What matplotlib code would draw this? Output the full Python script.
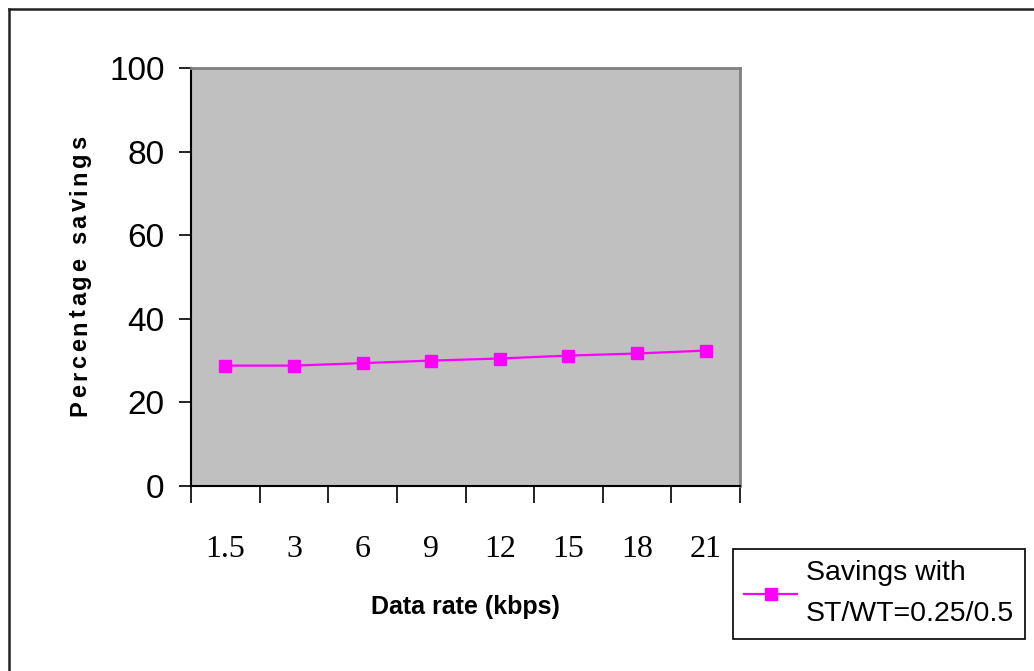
import matplotlib.pyplot as plt
from matplotlib.lines import Line2D
from matplotlib import font_manager
from matplotlib.font_manager import FontProperties
from matplotlib.ft2font import FT2Font

# data rate categories and measured savings
rates = ['1.5', '3', '6', '9', '12', '15', '18', '21']
savings = [28.8, 28.8, 29.4, 30.0, 30.5, 31.2, 31.7, 32.4]
y_ticks = [0, 20, 40, 60, 80, 100]

W, H = 1034, 671
DPI = 100
fig = plt.figure(figsize=(W / DPI, H / DPI), dpi=DPI, facecolor='white')
ax = fig.add_axes([191 / W, 1 - 486 / H, (740 - 191) / W, (486 - 68) / H])
ax.set_facecolor('#C0C0C0')

x = list(range(len(rates)))
ax.plot(x, savings, color='#FF00FF', linewidth=1.6, marker='s', markersize=8.5,
        markeredgecolor='#FF00FF', label='Savings with\nST/WT=0.25/0.5', clip_on=False)

ax.set_xlim(-0.5, len(rates) - 0.5)
ax.set_ylim(0, 100)

# category boundaries get the tick marks, centres get the labels
ax.set_xticks([i - 0.5 for i in range(len(rates) + 1)])
ax.set_xticklabels([])
ax.set_xticks(x, minor=True)
ax.set_xticklabels(rates, minor=True, fontsize=23, family='Liberation Serif')
ax.tick_params(axis='x', which='major', direction='out', length=12, width=1.2, color='black')
ax.tick_params(axis='x', which='minor', length=0, pad=35)

ax.set_yticks(y_ticks)
ax.set_yticklabels([str(v) for v in y_ticks], fontsize=24, family='Liberation Sans')
ax.tick_params(axis='y', direction='out', length=9, width=1.2, color='black', pad=10)

for side in ['left', 'bottom']:
    ax.spines[side].set_color('black')
    ax.spines[side].set_linewidth(1.5)
for side in ['top', 'right']:
    ax.spines[side].set_color('#808080')
    ax.spines[side].set_linewidth(2)

fig.text(465 / W, 1 - 607 / H, 'Data rate (kbps)', fontsize=18, fontweight='bold',
         family='Liberation Sans', ha='center', va='center')


def spaced_vertical_text(s, x_px, y0_px, y1_px, size, **kw):
    """Draw s rotated 90 deg with letter tracking so it spans y0..y1 (pixels from top)."""
    prop = FontProperties(family='Liberation Sans', weight='bold')
    font = FT2Font(font_manager.findfont(prop))
    font.set_size(size, DPI)
    adv = []
    for ch in s:
        g = font.load_char(ord(ch))
        adv.append(g.linearHoriAdvance / 65536)
    track = ((y1_px - y0_px) - sum(adv)) / (len(s) - 1)
    pos = H - y1_px
    for ch, a in zip(s, adv):
        fig.text(x_px / W, pos / H, ch, rotation=90, rotation_mode='anchor',
                 ha='left', va='baseline', fontsize=size, fontweight='bold',
                 family='Liberation Sans', **kw)
        pos += a + track


spaced_vertical_text('Percentage savings', 86, 136, 416, 17)

leg = ax.legend(loc='upper left', bbox_to_anchor=(733 / W, 1 - 549 / H),
                bbox_transform=fig.transFigure, borderaxespad=0, fancybox=False,
                frameon=True, edgecolor='black', framealpha=1,
                prop={'family': 'Liberation Sans', 'size': 20.5},
                handlelength=1.85, handletextpad=0.3, borderpad=0.4,
                labelspacing=0.2)
leg.get_frame().set_linewidth(1.2)
for t in leg.get_texts():
    t.set_linespacing(1.75)

# outer chart border (top and left edges visible)
fig.add_artist(Line2D([9 / W, 9 / W], [1 - 9 / H, -0.05], transform=fig.transFigure,
                      color='#222222', linewidth=1.8))
fig.add_artist(Line2D([9 / W, 1.05], [1 - 9 / H, 1 - 9 / H], transform=fig.transFigure,
                      color='#222222', linewidth=1.8))

fig.savefig('out.png', dpi=DPI, facecolor='white')
